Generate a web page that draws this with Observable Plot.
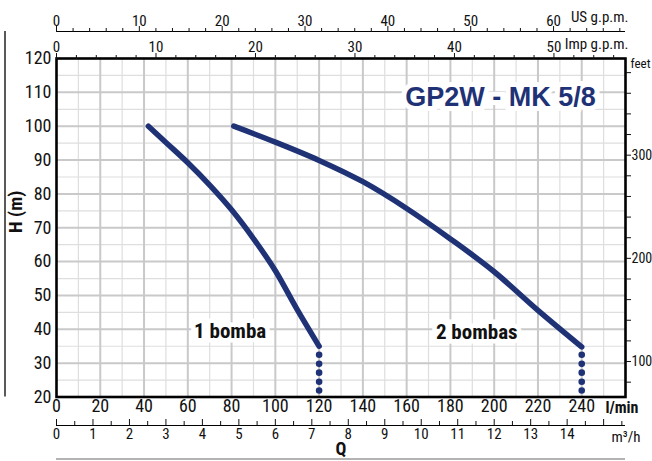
<!DOCTYPE html>
<html>
<head>
<meta charset="utf-8">
<script src="https://cdn.jsdelivr.net/npm/d3@7"></script>
<script src="https://cdn.jsdelivr.net/npm/@observablehq/plot@0.6"></script>
<style>
  html, body { margin: 0; padding: 0; background: #ffffff; }
  #chart svg { display: block; }
  #chart svg text { font-stretch: 75%; }
</style>
</head>
<body>
<div id="chart"></div>
<script>
// Pump performance curves: flow Q (l/min) against head H (m)
const seriesNames = ["1 bomba", "2 bombas"];
const q1 = [42, 50, 60, 70, 80, 90, 100, 110, 120];
const h1 = [100, 95.2, 89.2, 82.6, 75.3, 66.8, 57.3, 45.8, 35];
const q2 = [81, 100, 120, 140, 160, 180, 200, 220, 240];
const h2 = [100, 95.3, 89.9, 83.6, 75.7, 66.7, 57, 45.6, 34.8];

// Dotted continuation below the end of each curve
const dotFlows = [120, 240];
const dotHeads = [32.5, 29.8, 27.2, 24.5, 21.9];

const title = "GP2W - MK 5/8";

// Tick values for the main and secondary scales
const lminTicks = [0, 20, 40, 60, 80, 100, 120, 140, 160, 180, 200, 220, 240];
const headTicks = [20, 30, 40, 50, 60, 70, 80, 90, 100, 110, 120];
const usLabels = [0, 10, 20, 30, 40, 50, 60];
const impLabels = [0, 10, 20, 30, 40, 50];
const m3Labels = [0, 1, 2, 3, 4, 5, 6, 7, 8, 9, 10, 11, 12, 13, 14];
const feetLabels = [100, 200, 300];

// Unit conversions to the base scales (l/min and m)
const US = 3.78541, IMP = 4.54609, M3 = 1000 / 60, FT = 0.3048;

const usMajor = d3.range(0, 61, 10), usMinor = d3.range(2, 69, 2).filter(v => v % 10);
const impMajor = d3.range(0, 51, 10), impMinor = d3.range(2, 57, 2).filter(v => v % 10);
const m3Major = d3.range(0, 16, 1), m3Minor = d3.range(0.5, 15.6, 1);
const feetTicks = d3.range(80, 381, 20);

const curves = [
  ...q1.map((q, i) => ({q, h: h1[i], s: seriesNames[0]})),
  ...q2.map((q, i) => ({q, h: h2[i], s: seriesNames[1]}))
];
const dots = dotFlows.flatMap(q => dotHeads.map(h => ({q, h})));

const navy = "#1f3276";
const gridLight = "#dedede";
const gridDark = "#c9c9c9";
const narrow = "Roboto, 'Noto Sans', 'Liberation Sans', sans-serif";
const blank = () => "";

const labelStyle = {
  fontFamily: narrow, fontWeight: "bold", fontSize: 21,
  fill: "#111", stroke: "white", strokeWidth: 9, strokeLinejoin: "miter"
};

const chart = Plot.plot({
  width: 652,
  height: 461,
  marginTop: 58,
  marginBottom: 64.5,
  marginLeft: 56,
  marginRight: 27,
  style: {fontFamily: narrow, fontSize: "16px", color: "#111", background: "white"},
  x: {domain: [0, 260], axis: null, label: null},
  y: {domain: [20, 120], axis: null, label: null},
  marks: [
    // background grid: fine every 10 l/min and 5 m, heavier every 20 l/min and 10 m
    Plot.gridX(d3.range(10, 260, 20), {stroke: gridLight, strokeOpacity: 1, strokeWidth: 1.2}),
    Plot.gridY(d3.range(25, 120, 10), {stroke: gridLight, strokeOpacity: 1, strokeWidth: 1.2}),
    Plot.gridX(d3.range(20, 260, 20), {stroke: gridDark, strokeOpacity: 1, strokeWidth: 2}),
    Plot.gridY(d3.range(30, 120, 10), {stroke: gridDark, strokeOpacity: 1, strokeWidth: 2}),

    // title with a white box behind it
    Plot.text([title], {
      frameAnchor: "top-right", dx: -125, dy: 39, textAnchor: "middle", lineAnchor: "middle",
      fontFamily: "'Liberation Sans', Arial, sans-serif", fontWeight: "bold", fontSize: 27,
      fill: navy, stroke: "white", strokeWidth: 10, strokeLinejoin: "miter"
    }),

    // curve labels, placed from the last point of each curve
    Plot.text(curves.filter(d => d.s === seriesNames[0]), Plot.selectLast({
      x: "q", y: "h", text: "s", dx: -89, dy: -15, ...labelStyle
    })),
    Plot.text(curves.filter(d => d.s === seriesNames[1]), Plot.selectLast({
      x: "q", y: "h", text: "s", dx: -105, dy: -15, ...labelStyle
    })),

    // pump curves
    Plot.line(curves, {x: "q", y: "h", z: "s", stroke: navy, strokeWidth: 5.5, curve: "monotone-x"}),
    Plot.dot(dots, {x: "q", y: "h", r: 3.3, fill: navy}),

    Plot.frame({stroke: "black", strokeWidth: 2.6}),

    // head (m) on the left, flow (l/min) at the bottom
    Plot.axisY(headTicks, {anchor: "left", label: null, tickSize: 0, tickPadding: 5, fontSize: 18}),
    Plot.axisX(lminTicks, {anchor: "bottom", label: null, tickSize: 0, tickPadding: 2, fontSize: 18}),

    // m3/h scale below
    Plot.ruleY([20], {dy: 28.5, stroke: "black", strokeWidth: 1}),
    Plot.axisX(m3Major.map(v => v * M3), {anchor: "bottom", label: null, tickSize: 6, dy: 22.5, tickFormat: blank}),
    Plot.axisX(m3Minor.map(v => v * M3), {anchor: "bottom", label: null, tickSize: 4, dy: 24.5, tickFormat: blank}),
    Plot.axisX(m3Labels.map(v => v * M3), {
      anchor: "bottom", label: null, tickSize: 0, tickPadding: 3, dy: 28.5, fontSize: 15,
      tickFormat: v => String(Math.round(v / M3))
    }),

    // US gallons per minute on top
    Plot.ruleY([120], {dy: -27, stroke: "black", strokeWidth: 1}),
    Plot.axisX(usMajor.map(v => v * US), {anchor: "top", label: null, tickSize: 6, dy: -27, tickFormat: blank}),
    Plot.axisX(usMinor.map(v => v * US), {anchor: "top", label: null, tickSize: 4, dy: -27, tickFormat: blank}),
    Plot.axisX(usLabels.map(v => v * US), {
      anchor: "top", label: null, tickSize: 0, tickPadding: 6, dy: -27, fontSize: 15,
      tickFormat: v => String(Math.round(v / US))
    }),

    // Imperial gallons per minute along the frame top
    Plot.axisX(impMajor.map(v => v * IMP), {anchor: "top", label: null, tickSize: 6, tickFormat: blank}),
    Plot.axisX(impMinor.map(v => v * IMP), {anchor: "top", label: null, tickSize: 4, tickFormat: blank}),
    Plot.axisX(impLabels.map(v => v * IMP), {
      anchor: "top", label: null, tickSize: 0, tickPadding: 7, fontSize: 15,
      tickFormat: v => String(Math.round(v / IMP))
    }),

    // feet on the right
    Plot.axisY(feetTicks.map(v => v * FT), {anchor: "right", label: null, tickSize: 5, tickFormat: blank}),
    Plot.axisY(feetLabels.map(v => v * FT), {
      anchor: "right", label: null, tickSize: 0, tickPadding: 6, fontSize: 14,
      tickFormat: v => String(Math.round(v / FT))
    }),

    // unit and axis titles
    Plot.text(["US g.p.m."], {frameAnchor: "top-right", textAnchor: "end", lineAnchor: "middle", dx: 3, dy: -41, fontSize: 15}),
    Plot.text(["Imp g.p.m."], {frameAnchor: "top-right", textAnchor: "end", lineAnchor: "middle", dx: 3, dy: -14, fontSize: 15}),
    Plot.text(["feet"], {frameAnchor: "top-right", textAnchor: "start", lineAnchor: "middle", dx: 5, dy: 5, fontSize: 13}),
    Plot.text(["l/min"], {frameAnchor: "bottom-right", textAnchor: "end", lineAnchor: "middle", dx: 13, dy: 11, fontSize: 16, fontWeight: "bold"}),
    Plot.text(["m³/h"], {frameAnchor: "bottom-right", textAnchor: "end", lineAnchor: "middle", dx: 15, dy: 40, fontSize: 15}),
    Plot.text(["Q"], {frameAnchor: "bottom", textAnchor: "middle", lineAnchor: "middle", dy: 52, fontSize: 18, fontWeight: "bold"}),
    Plot.text(["H (m)"], {frameAnchor: "left", textAnchor: "middle", lineAnchor: "middle", rotate: -90, dx: -41, dy: -16, fontSize: 19, fontWeight: "bold"}),

    // separator lines at the left and bottom edges
    Plot.ruleX([0], {dx: -51.5, insetTop: -27, stroke: "black", strokeWidth: 1.3}),
    Plot.ruleY([20], {dy: 62, stroke: "#9a9a9a", strokeWidth: 1.3})
  ]
});

document.getElementById("chart").append(chart);
</script>
</body>
</html>
